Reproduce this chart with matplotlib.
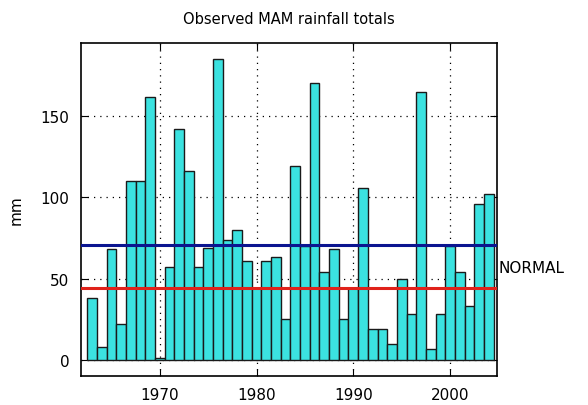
import numpy as np
import matplotlib.pyplot as plt

# MAM rainfall totals (mm), one value per year
years = np.arange(1963, 2005)
rain = [38, 8, 68, 22, 110, 110, 162, 1, 57, 142,
        116, 57, 69, 185, 74, 80, 61, 44, 61, 63,
        25, 119, 70, 170, 54, 68, 25, 44, 106, 19,
        19, 10, 50, 28, 165, 7, 28, 70, 54, 33,
        96, 102]

upper_level = 70.5
lower_level = 44.5

fig = plt.figure(figsize=(5.88, 4.06), dpi=100)
ax = fig.add_axes([0.137, 0.071, 0.709, 0.821])

ax.set_axisbelow(True)
ax.grid(True, color="black", linestyle=(0, (1, 4)), linewidth=0.9)

ax.bar(years, rain, width=1.0, color="#3BE2E0", edgecolor="#1a1a1a",
       linewidth=1.0, zorder=2)

ax.axhline(upper_level, color="#0B1590", linewidth=2.2, zorder=3)
ax.axhline(lower_level, color="#E0221A", linewidth=2.2, zorder=3)

ax.set_xlim(1961.8, 2004.9)
ax.set_ylim(-10, 195)
ax.set_xticks([1970, 1980, 1990, 2000])
ax.set_yticks([0, 50, 100, 150])
ax.tick_params(direction="in", length=5, top=True, right=True,
               labelsize=11, pad=8)
for s in ax.spines.values():
    s.set_linewidth(1.2)

ax.set_ylabel("mm", fontsize=11, labelpad=12)
ax.set_title("Observed MAM rainfall totals", fontsize=10.5, pad=14)
ax.text(1.002, 57, "NORMAL",
        transform=ax.get_yaxis_transform(), fontsize=11,
        ha="left", va="center")

fig.savefig("out.png", dpi=100)
